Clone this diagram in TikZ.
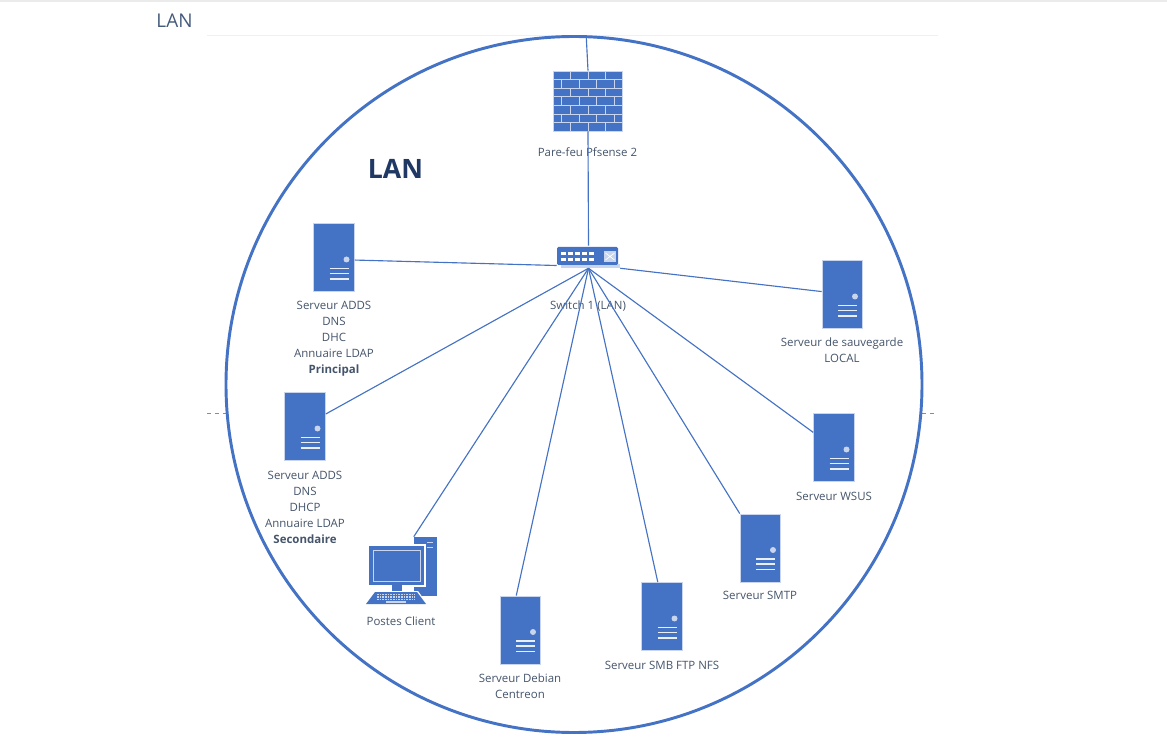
\documentclass[tikz,border=0pt]{standalone}
\usepackage{fontspec}
\setmainfont{Open Sans}
\usetikzlibrary{positioning}
\definecolor{netblue}{HTML}{4472C4}
\definecolor{netedge}{HTML}{C9D5EC}
\definecolor{nettext}{HTML}{44546A}
\definecolor{netdark}{HTML}{1F3864}
\newcommand{\serverface}{%
  \fill[netedge] (12.5,2) circle (3);
  \draw[netedge!40!white,line width=1.1pt] (-4.5,11) -- (14.5,11) (-4.5,16) -- (14.5,16) (-4.5,21.5) -- (14.5,21.5);
}
\tikzset{
  server/.style={rectangle,fill=netblue,draw=netedge,line width=0.7pt,inner sep=0,
    minimum width=30.5pt,minimum height=51pt,
    path picture={\begin{scope}[shift={(path picture bounding box.center)}]\serverface\end{scope}}},
  lbl/.style={text=nettext,align=center,inner sep=0,font=\fontsize{8.6}{12}\selectfont},
  link/.style={netblue,line width=0.85pt},
}
\begin{document}
\begin{tikzpicture}[x=0.75pt,y=-0.75pt]
  \useasboundingbox (0,0) rectangle (1167,741);
  \fill[black!8] (0,0) rectangle (1167,2);
  \draw[black!6,line width=0.5pt] (207,35) -- (938,35);
  \draw[black!45,dashed,line width=0.5pt] (207,413.5) -- (226,413.5) (922,413.5) -- (937,413.5);

  \node[circle,draw=netblue,line width=2.2pt,inner sep=0,minimum size=522pt] (lan) at (574,384.5) {};
  \node[inner sep=0,font=\fontsize{14.2}{16}\selectfont\color{nettext!80!netblue}] (title) at (174.5,21) {LAN};
  \node[text=netdark,inner sep=0,font=\fontsize{20}{24}\selectfont\bfseries] (zone) at (395.5,169) {LAN};

  % firewall
  \node[rectangle,fill=netblue,draw=netedge,line width=0.7pt,inner sep=0,minimum width=52pt,minimum height=45pt] (fw) at (588,101) {};
  \begin{scope}[shift={(553,71)}]
    \foreach \r in {1,...,6}
      \draw[netedge,line width=0.7pt] (0,{\r*8.6}) -- (70,{\r*8.6});
    \foreach \r in {0,2,4,6}
      \foreach \c in {17.5,35,52.5}
        \draw[netedge,line width=0.7pt] (\c,{\r*8.6}) -- (\c,{(\r+1)*8.6});
    \foreach \r in {1,3,5}
      \foreach \c in {8.5,26,43.5,61}
        \draw[netedge,line width=0.7pt] (\c,{\r*8.6}) -- (\c,{(\r+1)*8.6});
  \end{scope}
  \node[lbl] (fwlbl) at (587.5,152.5) {Pare-feu Pfsense 2};

  % switch
  \node[rectangle,inner sep=0,minimum width=47.25pt,minimum height=16.5pt] (sw) at (588.5,257) {};
  \fill[netedge] (561,264) rectangle (620,268);
  \fill[netblue,rounded corners=1pt] (557,247) rectangle (618,265);
  \foreach \c in {561,568,575,582,589}{
    \fill[white] (\c,252) rectangle +(5,3);
    \fill[white] (\c,258) rectangle +(5,3);
  }
  \fill[netedge] (604,251) rectangle (616,262);
  \draw[white,line width=0.5pt] (605.5,253) -- (614.5,260) (605.5,260) -- (614.5,253);
  \node[lbl] (swlbl) at (588,306.5) {Switch 1 (LAN)};

  % servers
  \node[server] (adds1) at (334,257.5) {};
  \node[server] (adds2) at (305,426.5) {};
  \node[server] (save) at (842.5,294.5) {};
  \node[server] (wsus) at (834,447.5) {};
  \node[server] (smtp) at (760.5,548) {};
  \node[server] (smb) at (662,616.5) {};
  \node[server] (debian) at (520.5,630) {};

  \node[lbl] (adds1lbl) at (334,338.5) {Serveur ADDS\\DNS\\DHC\\Annuaire LDAP\\\textbf{Principal}};
  \node[lbl] (adds2lbl) at (305,507.5) {Serveur ADDS\\DNS\\DHCP\\Annuaire LDAP\\\textbf{Secondaire}};
  \node[lbl] (savelbl) at (842,350.5) {Serveur de sauvegarde\\LOCAL};
  \node[lbl] (wsuslbl) at (834,496.5) {Serveur WSUS};
  \node[lbl] (smtplbl) at (760,595.5) {Serveur SMTP};
  \node[lbl] (smblbl) at (662,665.5) {Serveur SMB FTP NFS};
  \node[lbl] (debianlbl) at (520,686) {Serveur Debian\\Centreon};

  % client
  \node[rectangle,fill=netblue,inner sep=0,minimum width=17.25pt,minimum height=44.25pt] (client) at (425.5,566.5) {};
  \draw[netedge,line width=0.7pt] (427,542) -- (433,542) (427,547) -- (433,547);
  \fill[white] (367,544) rectangle (426,587);
  \fill[netblue] (369,546) rectangle (424,585);
  \draw[netedge,line width=0.7pt] (373,550) rectangle (420,581);
  \fill[netblue] (392,585) rectangle (402,591);
  \fill[white] (374,591) -- (418,591) -- (428,605) -- (364,605) -- cycle;
  \fill[netblue] (375,592) -- (417,592) -- (426,604) -- (366,604) -- cycle;
  \foreach \r in {594.5,597,599.5}
    \draw[netedge,line width=0.8pt,dash pattern=on 1.2pt off 0.8pt] (377,\r) -- (415,\r);
  \draw[netedge,line width=0.8pt] (386,602) -- (406,602);
  \node[lbl] (clientlbl) at (401,621.5) {Postes Client};

  % links
  \draw[link] (lan.88) -- (fw.north);
  \draw[link] (fw.south) -- (sw.north);
  \draw[link] (adds1.353) -- (sw.195);
  \draw[link] (save.172) -- (sw.south east);
  \draw[link] (adds2.31) -- (sw.south);
  \draw[link] (client.north west) -- (sw.south);
  \draw[link] (debian.97) -- (sw.south);
  \draw[link] (smb.97) -- (sw.south);
  \draw[link] (smtp.north west) -- (sw.south);
  \draw[link] (wsus.144) -- (sw.south);
\end{tikzpicture}
\end{document}
